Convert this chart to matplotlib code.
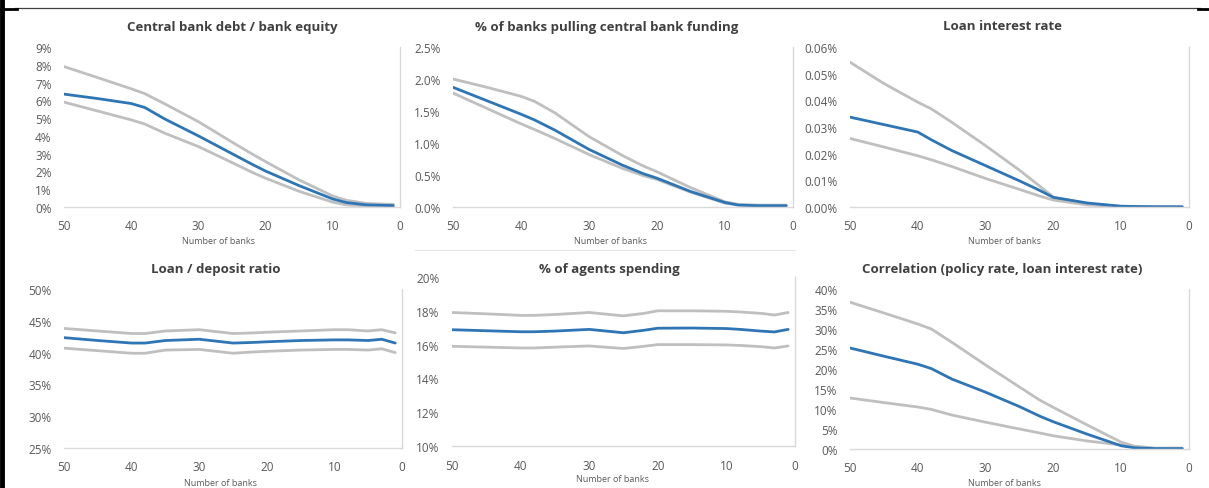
import matplotlib
matplotlib.use('Agg')
import matplotlib.pyplot as plt
from matplotlib.lines import Line2D
from matplotlib.ticker import FuncFormatter

plt.rcParams['font.family'] = ['Open Sans', 'DejaVu Sans']

W, H = 1209, 489
BLUE = '#2E75B6'
GREY = '#BFBFBF'
TXT = '#595959'

banks = [50, 45, 40, 38, 35, 30, 25, 22, 20, 15, 10, 8, 5, 3, 1]

# central bank debt / bank equity (%)
cb_hi = [7.9, 7.28, 6.65, 6.38, 5.8, 4.8, 3.65, 2.98, 2.55, 1.52, 0.62, 0.38, 0.2, 0.17, 0.15]
cb_mid = [6.35, 6.1, 5.82, 5.6, 4.95, 4.0, 3.0, 2.4, 2.02, 1.2, 0.45, 0.25, 0.12, 0.1, 0.08]
cb_lo = [5.9, 5.4, 4.9, 4.67, 4.15, 3.4, 2.5, 1.95, 1.62, 0.88, 0.27, 0.12, 0.06, 0.05, 0.05]

# % of banks pulling central bank funding
pull_hi = [2.0, 1.87, 1.73, 1.65, 1.47, 1.1, 0.8, 0.64, 0.55, 0.3, 0.08, 0.04, 0.03, 0.03, 0.03]
pull_mid = [1.87, 1.66, 1.45, 1.36, 1.2, 0.9, 0.65, 0.52, 0.45, 0.24, 0.07, 0.03, 0.02, 0.02, 0.02]
pull_lo = [1.78, 1.54, 1.3, 1.21, 1.07, 0.82, 0.6, 0.49, 0.43, 0.23, 0.06, 0.03, 0.02, 0.02, 0.02]

# loan interest rate (%)
loan_hi = [0.0543, 0.0463, 0.0393, 0.0368, 0.0318, 0.023, 0.0138, 0.0078, 0.0037, 0.0012, 0.0002, 0.0001, 0.0, 0.0, 0.0]
loan_mid = [0.0337, 0.0309, 0.0281, 0.0252, 0.0212, 0.0155, 0.0098, 0.0062, 0.0036, 0.0015, 0.0003, 0.0002, 0.0001, 0.0001, 0.0001]
loan_lo = [0.0257, 0.0225, 0.0192, 0.0177, 0.0152, 0.0107, 0.0066, 0.0041, 0.0026, 0.0008, 0.0001, 0.0, 0.0, 0.0, 0.0]

# loan / deposit ratio (%)
ldr_hi = [43.8, 43.4, 43.0, 43.0, 43.4, 43.6, 43.0, 43.1, 43.2, 43.4, 43.6, 43.6, 43.4, 43.6, 43.1]
ldr_mid = [42.35, 41.9, 41.5, 41.5, 41.9, 42.1, 41.5, 41.6, 41.7, 41.9, 42.0, 42.0, 41.9, 42.1, 41.5]
ldr_lo = [40.7, 40.3, 39.9, 39.9, 40.4, 40.5, 39.9, 40.1, 40.2, 40.4, 40.5, 40.5, 40.4, 40.6, 40.0]

# % of agents spending
spend_hi = [17.9, 17.82, 17.73, 17.73, 17.78, 17.9, 17.7, 17.85, 18.0, 18.0, 17.97, 17.93, 17.85, 17.75, 17.9]
spend_mid = [16.88, 16.82, 16.76, 16.76, 16.8, 16.9, 16.7, 16.85, 16.97, 16.98, 16.95, 16.9, 16.8, 16.75, 16.9]
spend_lo = [15.9, 15.85, 15.8, 15.8, 15.85, 15.92, 15.77, 15.9, 16.0, 16.0, 15.98, 15.95, 15.88, 15.8, 15.92]

# correlation (policy rate, loan interest rate)
corr_hi = [36.7, 34.0, 31.25, 30.0, 26.7, 21.0, 15.5, 12.2, 10.4, 6.0, 1.7, 0.7, 0.2, 0.2, 0.2]
corr_mid = [25.25, 23.2, 21.2, 20.1, 17.5, 14.2, 10.6, 8.2, 6.8, 3.7, 0.8, 0.3, 0.1, 0.1, 0.1]
corr_lo = [12.75, 11.6, 10.5, 9.9, 8.5, 6.7, 5.0, 4.0, 3.3, 2.0, 1.0, 0.5, 0.2, 0.2, 0.2]

panels = [
    # title, series, ylim, yticks, fmt, axes box px (l, r, top, bottom), title x, label x, title y, label y
    ('Central bank debt / bank equity', (cb_hi, cb_mid, cb_lo), (0, 9), range(0, 10),
     '{:.0f}%', (64, 400, 48, 208), 232, 219, 27, 242),
    ('% of banks pulling central bank funding', (pull_hi, pull_mid, pull_lo), (0, 2.5),
     [0, 0.5, 1.0, 1.5, 2.0, 2.5], '{:.1f}%', (453, 793, 48, 208), 607, 610, 27, 242),
    ('Loan interest rate', (loan_hi, loan_mid, loan_lo), (0, 0.06),
     [0, 0.01, 0.02, 0.03, 0.04, 0.05, 0.06], '{:.2f}%', (850, 1189, 48, 208), 1002, 1004, 27, 242),
    ('Loan / deposit ratio', (ldr_hi, ldr_mid, ldr_lo), (25, 50), range(25, 51, 5),
     '{:.0f}%', (64, 402, 290, 449), 216, 220, 270, 484),
    ('% of agents spending', (spend_hi, spend_mid, spend_lo), (10, 20), range(10, 21, 2),
     '{:.0f}%', (452, 795, 278, 447), 609, 612, 270, 480),
    ('Correlation (policy rate, loan interest rate)', (corr_hi, corr_mid, corr_lo), (0, 40),
     range(0, 41, 5), '{:.0f}%', (850, 1189, 290, 450), 1002, 1004, 270, 484),
]

fig = plt.figure(figsize=(W / 100, H / 100), dpi=100)

for title, (hi, mid, lo), ylim, yticks, fmt, box, tx, lx, ty, ly in panels:
    l, r, t, b = box
    ax = fig.add_axes([l / W, 1 - b / H, (r - l) / W, (b - t) / H])
    ax.plot(banks, hi, color=GREY, lw=2.0, solid_joinstyle='round', solid_capstyle='round')
    ax.plot(banks, lo, color=GREY, lw=2.0, solid_joinstyle='round', solid_capstyle='round')
    ax.plot(banks, mid, color=BLUE, lw=2.0, solid_joinstyle='round', solid_capstyle='round')
    ax.set_xlim(50, 0)
    ax.set_ylim(*ylim)
    ax.set_xticks([50, 40, 30, 20, 10, 0])
    ax.set_yticks(list(yticks))
    ax.yaxis.set_major_formatter(FuncFormatter(lambda v, p, f=fmt: f.format(v)))
    for s in ['left', 'top']:
        ax.spines[s].set_visible(False)
    for s in ['bottom', 'right']:
        ax.spines[s].set_color('#D9D9D9')
        ax.spines[s].set_linewidth(1.0)
    ax.tick_params(length=0, labelsize=8.5, labelcolor=TXT, pad=9)
    fig.text(tx / W, 1 - ty / H, title, ha='center', va='center',
             fontsize=9.5, fontweight='bold', color='#404040')
    fig.text(lx / W, 1 - ly / H, 'Number of banks', ha='center', va='center',
             fontsize=6.5, color=TXT)

# frame lines from the screenshot
fig.add_artist(Line2D([2 / W, 2 / W], [0, 1], color='black', lw=3.5))
fig.add_artist(Line2D([15 / W, 1200 / W], [1 - 9 / H, 1 - 9 / H], color='#404040', lw=0.9))
fig.add_artist(Line2D([0, 17 / W], [1 - 10 / H, 1 - 10 / H], color='black', lw=2))
fig.add_artist(Line2D([1198 / W, 1], [1 - 10 / H, 1 - 10 / H], color='black', lw=2))
fig.add_artist(Line2D([415 / W, 795 / W], [1 - 251 / H, 1 - 251 / H], color='#E6E6E6', lw=0.8))

fig.savefig('out.png', dpi=100)
